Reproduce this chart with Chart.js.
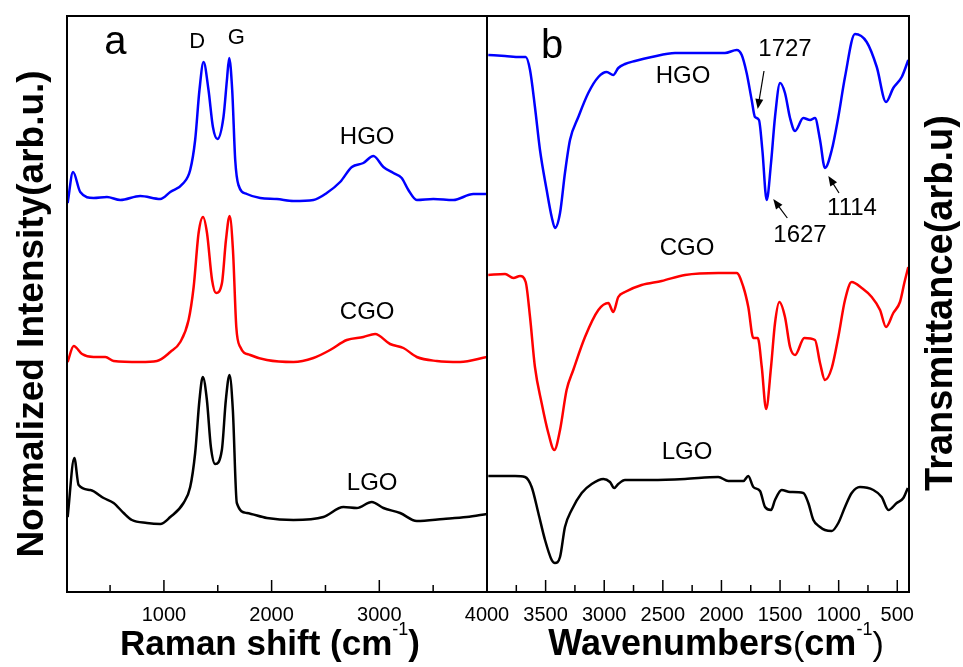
<!DOCTYPE html>
<html>
<head>
<meta charset="utf-8">
<script src="https://cdn.jsdelivr.net/npm/chart.js@4.4.0/dist/chart.umd.min.js"></script>
<style>
  html, body { margin: 0; padding: 0; background: #fff; }
  #wrap { position: relative; width: 963px; height: 667px; }
  canvas { position: absolute; left: 0; top: 0; }
</style>
</head>
<body>
<div id="wrap">
  <canvas id="chartA" width="963" height="667"></canvas>
  <canvas id="chartB" width="963" height="667"></canvas>
</div>
<script>
const FONT = '"Liberation Sans", Arial, sans-serif';

// panel a : Raman spectra (offset curves, arb. units)
const ramanTicks = [1000, 2000, 3000];
const ramanMinor = [500, 1500, 2500, 3500];

const hgoRamanX = [106,156,223,347,471,595,780,966,1059,1182,1244,1290,1330,1368,1414,1455,1497,1553,1585,1606,1634,1662,1692,1770,1894,2049,2203,2388,2512,2636,2745,2852,2945,3038,3131,3208,3270,3348,3502,3687,3873,4000];
const hgoRamanY = [389,420,400,394,395,392,396,393,400,409,422,452,502,530,502,465,453,475,512,534,502,432,407,398,394,393,391,392,399,410,425,429,436,425,419,414,402,392,393,392,398,398];

const cgoRamanX = [106,162,240,347,456,533,780,935,1059,1152,1229,1276,1322,1363,1400,1447,1484,1539,1576,1610,1641,1672,1709,1801,1956,2203,2388,2543,2698,2852,2961,3100,3224,3348,3534,3750,4000];
const cgoRamanY = [230,246,238,235,235,231,230,231,240,250,272,305,359,375,359,312,299,309,352,376,342,265,245,237,232,230,234,242,252,255,258,248,244,235,231,230,235];

const lgoRamanX = [106,168,208,317,440,533,626,703,842,966,1059,1182,1244,1290,1330,1361,1399,1436,1476,1538,1575,1609,1640,1677,1770,1956,2203,2481,2667,2791,2930,3038,3193,3348,3595,3811,4000];
const lgoRamanY = [75,134,107,102,94,89,79,72,69,68,75,89,105,139,192,215,192,145,128,142,192,217,182,89,79,74,72,75,85,84,90,84,79,71,73,75,78];

// panel b : FTIR spectra
const irTicks = [4000, 3500, 3000, 2500, 2000, 1500, 1000, 500];
const irMinor = [3750, 3250, 2750, 2250, 1750, 1250, 750];

const hgoIrX = [3989,3846,3718,3670,3633,3591,3548,3491,3448,3420,3377,3335,3292,3221,3136,3050,2979,2923,2880,2823,2737,2595,2396,2168,1970,1870,1827,1785,1742,1714,1680,1651,1614,1577,1543,1500,1458,1415,1372,1302,1244,1202,1159,1117,1059,1003,946,861,761,675,596,534,462,406];
const hgoIrY = [537,536,535,535,522,485,442,402,375,364,379,419,452,475,499,515,520,517,524,528,531,535,539,539,539,542,537,519,492,475,472,442,392,429,475,509,499,474,461,474,472,474,452,424,442,475,515,558,550,525,490,504,515,532];

const cgoIrX = [3989,3846,3775,3718,3670,3633,3591,3534,3477,3426,3377,3321,3264,3164,3050,2965,2923,2880,2823,2681,2510,2311,2027,1870,1813,1771,1728,1690,1656,1619,1577,1543,1506,1458,1415,1372,1293,1202,1159,1117,1059,1003,946,889,803,718,647,596,534,477,440,406];
const cgoIrY = [317,318,314,316,310,275,225,189,159,142,162,202,222,255,282,289,280,295,300,307,311,317,319,319,305,285,254,254,225,183,225,269,290,275,245,237,254,252,229,212,224,255,292,310,304,295,282,265,279,290,309,325];

const lgoIrX = [3989,3761,3676,3619,3562,3505,3448,3420,3377,3335,3278,3192,3107,3007,2951,2914,2880,2823,2595,2311,2027,1941,1813,1771,1728,1671,1628,1577,1543,1486,1415,1302,1259,1216,1159,1117,1059,1003,946,889,818,704,633,576,505,448,410];
const lgoIrY = [116,116,115,105,79,52,32,29,35,65,82,99,108,113,110,104,108,112,112,113,115,111,111,116,105,101,85,82,92,102,100,99,89,72,65,62,61,69,85,99,105,102,95,82,89,94,104];

function pts(xs, ys) {
  return xs.map((x, i) => ({ x: x, y: ys[i] }));
}

function curve(label, xs, ys, color) {
  return {
    label: label,
    data: pts(xs, ys),
    borderColor: color,
    borderWidth: 2.5,
    pointRadius: 0,
    fill: false,
    cubicInterpolationMode: 'monotone'
  };
}

function drawParts(ctx, parts, cx, baseY) {
  let w = 0;
  parts.forEach(p => { ctx.font = p.font; p.w = ctx.measureText(p.t).width; w += p.w; });
  let x = cx - w / 2;
  ctx.textAlign = 'left';
  ctx.textBaseline = 'alphabetic';
  parts.forEach(p => { ctx.font = p.font; ctx.fillText(p.t, x, baseY + (p.dy || 0)); x += p.w; });
}

// frame, inward ticks, text labels, arrows and axis titles
function makeDeco(cfg) {
  return {
    id: 'deco',
    afterDatasetsDraw(chart) {
      const ctx = chart.ctx, a = chart.chartArea;
      const sx = chart.scales.x, sy = chart.scales.y;
      ctx.save();
      ctx.strokeStyle = '#000';
      ctx.fillStyle = '#000';
      ctx.lineWidth = 1.5;
      cfg.major.forEach(v => {
        const px = sx.getPixelForValue(v);
        ctx.beginPath(); ctx.moveTo(px, a.bottom); ctx.lineTo(px, a.bottom - 12); ctx.stroke();
      });
      cfg.minor.forEach(v => {
        const px = sx.getPixelForValue(v);
        ctx.beginPath(); ctx.moveTo(px, a.bottom); ctx.lineTo(px, a.bottom - 7); ctx.stroke();
      });
      ctx.lineWidth = 2;
      ctx.strokeRect(a.left, a.top, a.right - a.left, a.bottom - a.top);

      ctx.textAlign = 'center';
      ctx.textBaseline = 'middle';
      cfg.labels.forEach(l => {
        ctx.font = l.size + 'px ' + FONT;
        ctx.fillText(l.text, sx.getPixelForValue(l.x), sy.getPixelForValue(l.y));
      });

      ctx.lineWidth = 1.2;
      cfg.arrows.forEach(ar => {
        const x1 = sx.getPixelForValue(ar.from[0]), y1 = sy.getPixelForValue(ar.from[1]);
        const x2 = sx.getPixelForValue(ar.to[0]), y2 = sy.getPixelForValue(ar.to[1]);
        const ang = Math.atan2(y2 - y1, x2 - x1);
        ctx.beginPath(); ctx.moveTo(x1, y1); ctx.lineTo(x2 - 6 * Math.cos(ang), y2 - 6 * Math.sin(ang)); ctx.stroke();
        ctx.beginPath();
        ctx.moveTo(x2, y2);
        ctx.lineTo(x2 - 10 * Math.cos(ang) + 4 * Math.sin(ang), y2 - 10 * Math.sin(ang) - 4 * Math.cos(ang));
        ctx.lineTo(x2 - 10 * Math.cos(ang) - 4 * Math.sin(ang), y2 - 10 * Math.sin(ang) + 4 * Math.cos(ang));
        ctx.closePath(); ctx.fill();
      });

      drawParts(ctx, cfg.xTitle, cfg.xTitleX, 655);

      ctx.translate(cfg.yTitleX, cfg.yTitleY);
      ctx.rotate(-Math.PI / 2);
      ctx.font = 'bold ' + cfg.yTitleSize + 'px ' + FONT;
      ctx.textAlign = 'center';
      ctx.textBaseline = 'alphabetic';
      ctx.fillText(cfg.yTitle, 0, 0);
      ctx.restore();
    }
  };
}

function xAxis(min, max, reverse, ticks) {
  return {
    type: 'linear', min: min, max: max, reverse: reverse,
    grid: { display: false, drawTicks: false },
    border: { display: false },
    afterBuildTicks: s => { s.ticks = ticks.map(v => ({ value: v })); },
    afterFit: s => { s.height = 75; },
    ticks: {
      font: { family: FONT, size: 20 }, color: '#000', padding: 11,
      maxRotation: 0, autoSkip: false,
      callback: v => String(v)
    }
  };
}

const chartA = new Chart(document.getElementById('chartA'), {
  type: 'line',
  data: {
    datasets: [
      curve('HGO', hgoRamanX, hgoRamanY, '#0000ff'),
      curve('CGO', cgoRamanX, cgoRamanY, '#ff0000'),
      curve('LGO', lgoRamanX, lgoRamanY, '#000000')
    ]
  },
  options: {
    responsive: false,
    animation: false,
    layout: { padding: { left: 67, right: 476, top: 16, bottom: 0 } },
    plugins: { legend: { display: false }, tooltip: { enabled: false } },
    scales: {
      x: xAxis(100, 4000, false, ramanTicks),
      y: { display: false, min: 0, max: 576 }
    }
  },
  plugins: [makeDeco({
    major: ramanTicks, minor: ramanMinor,
    labels: [
      { text: 'a', x: 549, y: 549, size: 40 },
      { text: 'D', x: 1310, y: 550, size: 22 },
      { text: 'G', x: 1672, y: 554, size: 22 },
      { text: 'HGO', x: 2887, y: 455, size: 24 },
      { text: 'CGO', x: 2887, y: 280, size: 24 },
      { text: 'LGO', x: 2934, y: 109, size: 24 }
    ],
    arrows: [],
    xTitle: [
      { t: 'Raman shift (cm', font: 'bold 35px ' + FONT },
      { t: '-1', font: '18px ' + FONT, dy: -20 },
      { t: ')', font: 'bold 35px ' + FONT }
    ],
    xTitleX: 270,
    yTitle: 'Normalized Intensity(arb.u.)', yTitleSize: 37, yTitleX: 43, yTitleY: 314
  })]
});

const chartB = new Chart(document.getElementById('chartB'), {
  type: 'line',
  data: {
    datasets: [
      curve('HGO', hgoIrX, hgoIrY, '#0000ff'),
      curve('CGO', cgoIrX, cgoIrY, '#ff0000'),
      curve('LGO', lgoIrX, lgoIrY, '#000000')
    ]
  },
  options: {
    responsive: false,
    animation: false,
    layout: { padding: { left: 487, right: 54, top: 16, bottom: 0 } },
    plugins: { legend: { display: false }, tooltip: { enabled: false } },
    scales: {
      x: xAxis(400, 4000, true, irTicks),
      y: { display: false, min: 0, max: 576 }
    }
  },
  plugins: [makeDeco({
    major: irTicks, minor: irMinor,
    labels: [
      { text: 'b', x: 3445, y: 545, size: 40 },
      { text: 'HGO', x: 2328, y: 516, size: 24 },
      { text: '1727', x: 1458, y: 543, size: 24 },
      { text: '1627', x: 1330, y: 357, size: 24 },
      { text: '1114', x: 886, y: 384, size: 24 },
      { text: 'CGO', x: 2294, y: 344, size: 24 },
      { text: 'LGO', x: 2294, y: 140, size: 24 }
    ],
    arrows: [
      { from: [1637, 521], to: [1691, 483] },
      { from: [1438, 374], to: [1558, 393] },
      { from: [997, 399], to: [1088, 416] }
    ],
    xTitle: [
      { t: 'Wavenumbers', font: 'bold 36px ' + FONT },
      { t: '(', font: '34px ' + FONT },
      { t: 'cm', font: 'bold 36px ' + FONT },
      { t: '-1', font: '18px ' + FONT, dy: -20 },
      { t: ')', font: '34px ' + FONT }
    ],
    xTitleX: 716,
    yTitle: 'Transmittance(arb.u)', yTitleSize: 38, yTitleX: 952, yTitleY: 303
  })]
});
</script>
</body>
</html>
